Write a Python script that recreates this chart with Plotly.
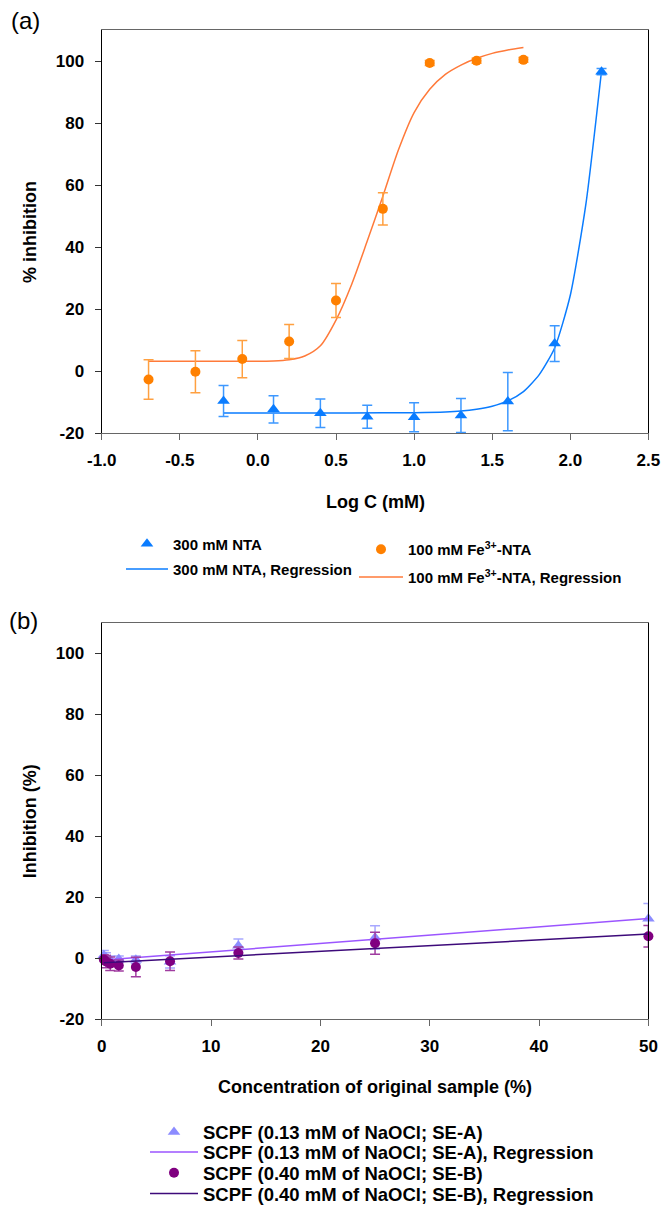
import plotly.graph_objects as go

W, H = 662, 1213

# ---------------- Panel (a) data ----------------
nta_x = [-0.22, 0.1, 0.4, 0.7, 1.0, 1.3, 1.6, 1.9, 2.2]
nta_y = [-9.6, -12.3, -13.6, -14.7, -14.9, -14.3, -9.8, 8.9, 96.7]
nta_err = [5.0, 4.4, 4.6, 3.7, 4.7, 5.5, 9.4, 5.8, 1.0]

nta_fit_x = [-0.22, 0.2, 0.6, 1.0, 1.2, 1.3, 1.4, 1.5, 1.6, 1.7, 1.8, 1.9, 2.0, 2.1, 2.2]
nta_fit_y = [-13.5, -13.5, -13.5, -13.4, -13.2, -12.9, -12.3, -11.3, -9.6, -6.6, -1.2, 7.5, 24.5, 54.0, 97.0]

fe_x = [-0.7, -0.4, -0.1, 0.2, 0.5, 0.8, 1.1, 1.4, 1.7]
fe_y = [-2.7, -0.2, 3.9, 9.6, 22.8, 52.4, 99.5, 100.2, 100.5]
fe_err = [6.4, 6.8, 6.0, 5.5, 5.5, 5.2, 0.8, 0.8, 0.8]

fe_fit_x = [-0.7, -0.2, 0.1, 0.2, 0.3, 0.4, 0.5, 0.6, 0.7, 0.8, 0.9, 1.0, 1.1, 1.2, 1.3, 1.4, 1.5, 1.6, 1.7]
fe_fit_y = [3.2, 3.2, 3.3, 3.7, 4.9, 8.2, 16.5, 28.0, 42.0, 56.5, 71.5, 83.5, 91.0, 95.8, 98.8, 101.0, 102.6, 103.7, 104.5]

a_xticks = [-1.0, -0.5, 0.0, 0.5, 1.0, 1.5, 2.0, 2.5]
a_xticktext = ["-1.0", "-0.5", "0.0", "0.5", "1.0", "1.5", "2.0", "2.5"]
y_ticks = [-20, 0, 20, 40, 60, 80, 100]
y_ticktext = ["-20", "0", "20", "40", "60", "80", "100"]

# ---------------- Panel (b) data ----------------
b_x = [0.195, 0.39, 0.78, 1.5625, 3.125, 6.25, 12.5, 25, 50]
sea_y = [1.0, 0.3, -0.5, -0.3, -0.5, -1.2, 4.1, 6.8, 12.9]
sea_err = [1.5, 1.5, 1.2, 1.0, 1.2, 2.0, 2.2, 3.8, 5.0]
seb_y = [-0.4, -1.1, -1.8, -2.4, -2.9, -1.0, 1.7, 4.9, 7.2]
seb_err = [1.5, 2.0, 2.2, 1.8, 3.2, 3.0, 2.0, 3.6, 3.5]

fit_b_x = [0.195, 50]
sea_fit_y = [-0.6, 13.0]
seb_fit_y = [-1.5, 7.9]

b_xticks = [0, 10, 20, 30, 40, 50]
b_xticktext = ["0", "10", "20", "30", "40", "50"]

# ---------------- styling ----------------
FONT = "Liberation Sans, Arial, sans-serif"
BLUE = "#0A7CFF"
BLUE_ERR = "#3D98FF"
ORANGE = "#FF8000"
ORANGE_ERR = "#FFA040"
ORANGE_LINE = "#FF7A3A"
LAV = "#8C8CFF"
LAV_ERR = "#A8A8FF"
PURPLE = "#800080"
PURPLE_ERR = "#A03CA0"
VIOLET_LINE = "#9B55FF"
DARK_LINE = "#3D0A7A"

fig = go.Figure()

# Panel (a)
fig.add_trace(go.Scatter(x=nta_fit_x, y=nta_fit_y, mode="lines", name="300 mM NTA, Regression",
                         line=dict(color=BLUE, width=1.5, shape="spline", smoothing=0.6),
                         xaxis="x", yaxis="y", legend="legend2", showlegend=True))
fig.add_trace(go.Scatter(x=fe_fit_x, y=fe_fit_y, mode="lines", name="100 mM Fe<sup>3+</sup>-NTA, Regression",
                         line=dict(color=ORANGE_LINE, width=1.5, shape="spline", smoothing=0.8),
                         xaxis="x", yaxis="y", legend="legend4", showlegend=True))
fig.add_trace(go.Scatter(x=nta_x, y=nta_y, mode="markers", name="300 mM NTA",
                         marker=dict(symbol="triangle-up", size=11, color=BLUE),
                         error_y=dict(type="data", array=nta_err, color=BLUE_ERR, thickness=1.5, width=5),
                         xaxis="x", yaxis="y", legend="legend", showlegend=True))
fig.add_trace(go.Scatter(x=fe_x, y=fe_y, mode="markers", name="100 mM Fe<sup>3+</sup>-NTA",
                         marker=dict(symbol="circle", size=10, color=ORANGE),
                         error_y=dict(type="data", array=fe_err, color=ORANGE_ERR, thickness=1.5, width=5),
                         xaxis="x", yaxis="y", legend="legend3", showlegend=True))

# Panel (b)
fig.add_trace(go.Scatter(x=b_x, y=sea_y, mode="markers", name="SCPF (0.13 mM of NaOCl; SE-A)",
                         marker=dict(symbol="triangle-up", size=11, color=LAV),
                         error_y=dict(type="data", array=sea_err, color=LAV_ERR, thickness=1.5, width=5),
                         cliponaxis=False, xaxis="x2", yaxis="y2", legend="legend5", showlegend=True))
fig.add_trace(go.Scatter(x=fit_b_x, y=sea_fit_y, mode="lines", name="SCPF (0.13 mM of NaOCl; SE-A), Regression",
                         line=dict(color=VIOLET_LINE, width=1.5),
                         xaxis="x2", yaxis="y2", legend="legend6", showlegend=True))
fig.add_trace(go.Scatter(x=b_x, y=seb_y, mode="markers", name="SCPF (0.40 mM of NaOCl; SE-B)",
                         marker=dict(symbol="circle", size=10, color=PURPLE),
                         error_y=dict(type="data", array=seb_err, color=PURPLE_ERR, thickness=1.5, width=5),
                         cliponaxis=False, xaxis="x2", yaxis="y2", legend="legend7", showlegend=True))
fig.add_trace(go.Scatter(x=fit_b_x, y=seb_fit_y, mode="lines", name="SCPF (0.40 mM of NaOCl; SE-B), Regression",
                         line=dict(color=DARK_LINE, width=1.5),
                         xaxis="x2", yaxis="y2", legend="legend8", showlegend=True))

xdom = [101.7 / W, 648.4 / W]
ya_dom = [1 - 436.7 / H, 1 - 30.7 / H]
yb_dom = [1 - 1027.7 / H, 1 - 627.7 / H]

tickfont = dict(family=FONT, size=17, color="black", weight="bold")
common_x = dict(showgrid=False, zeroline=False, showline=True, linecolor="#666666", linewidth=1.3,
                mirror=True, ticks="outside", ticklen=6, tickcolor="#666666", tickwidth=1.2,
                tickfont=tickfont, ticklabelstandoff=5, ticklabeloverflow="allow",
                automargin=False, fixedrange=True)
common_y = dict(showgrid=False, zeroline=False, showline=True, linecolor="black", linewidth=1.3,
                mirror=True, ticks="outside", ticklen=6, tickcolor="#333333", tickwidth=1.2,
                tickfont=tickfont, ticklabelstandoff=7, ticklabeloverflow="allow",
                automargin=False, fixedrange=True,
                range=[-20, 110], tickvals=y_ticks, ticktext=y_ticktext)

fig.update_layout(
    width=W, height=H, margin=dict(l=0, r=0, t=0, b=0),
    paper_bgcolor="white", plot_bgcolor="white", showlegend=True,
    font=dict(family=FONT, color="black"),
    xaxis=dict(domain=xdom, range=[-1.0, 2.5], tickvals=a_xticks, ticktext=a_xticktext, anchor="y", **common_x),
    yaxis=dict(domain=ya_dom, anchor="x", **common_y),
    xaxis2=dict(domain=xdom, range=[0, 50], tickvals=b_xticks, ticktext=b_xticktext, anchor="y2", **common_x),
    yaxis2=dict(domain=yb_dom, anchor="x2", **common_y),
)

# Legends: one legend per entry so each can be positioned like the reference
legfont_a = dict(family=FONT, size=15, color="black", weight="bold")
legfont_b = dict(family=FONT, size=18.5, color="black", weight="bold")
def leg(xpx, ypx, font, iw):
    return dict(x=xpx / W, y=1 - ypx / H, xanchor="left", yanchor="middle", xref="paper", yref="paper",
                bgcolor="rgba(0,0,0,0)", borderwidth=0, font=font, itemwidth=iw, itemclick=False,
                itemdoubleclick=False, visible=True)

fig.update_layout(
    legend=leg(121, 548.5, legfont_a, 42),
    legend2=leg(121, 574, legfont_a, 42),
    legend3=leg(354, 554, legfont_a, 44),
    legend4=leg(354, 582, legfont_a, 44),
    legend5=leg(145, 1142, legfont_b, 48),
    legend6=leg(145, 1162, legfont_b, 48),
    legend7=leg(145, 1183, legfont_b, 48),
    legend8=leg(145, 1204, legfont_b, 48),
)

titlefont = dict(family=FONT, size=18, color="black", weight="bold")
ann = [
    dict(text="(a)", x=9 / W, y=1 - 21 / H, xanchor="left", yanchor="middle",
         font=dict(family=FONT, size=24, color="black")),
    dict(text="(b)", x=7 / W, y=1 - 626 / H, xanchor="left", yanchor="middle",
         font=dict(family=FONT, size=24, color="black")),
    dict(text="Log C (mM)", x=375 / W, y=1 - 506 / H, xanchor="center", yanchor="middle", font=titlefont),
    dict(text="Concentration of original sample (%)", x=375 / W, y=1 - 1096 / H,
         xanchor="center", yanchor="middle", font=titlefont),
    dict(text="% inhibition", x=30 / W, y=1 - 234 / H, xanchor="center", yanchor="middle",
         textangle=-90, font=titlefont),
    dict(text="Inhibition (%)", x=30 / W, y=1 - 828 / H, xanchor="center", yanchor="middle",
         textangle=-90, font=titlefont),
]
for a in ann:
    a.update(xref="paper", yref="paper", showarrow=False)
fig.update_layout(annotations=ann)

fig.write_html("out.html", config={"displayModeBar": False},
               post_script="document.body.style.margin='0';document.body.style.padding='0';"
                           "document.body.style.overflow='hidden';")
